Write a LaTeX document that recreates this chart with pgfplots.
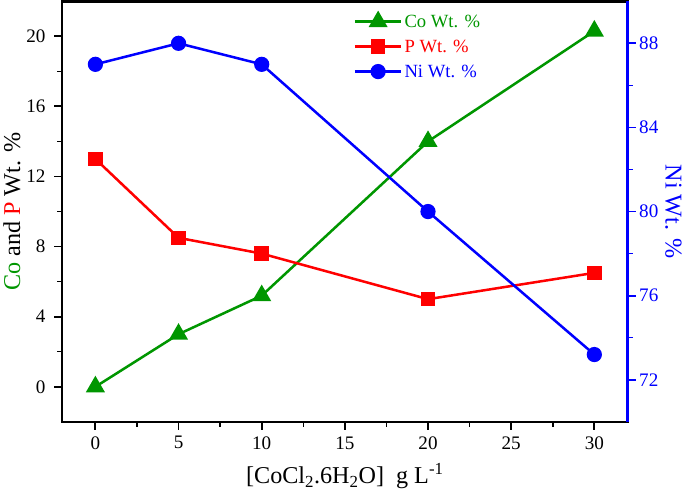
\documentclass[border=0pt]{standalone}
\usepackage{pgfplots}
\pgfplotsset{compat=1.18}
\usepackage{fontspec}
\setmainfont{Liberation Serif}
\definecolor{cogreen}{RGB}{0,150,0}
\definecolor{pred}{RGB}{255,0,0}
\definecolor{niblue}{RGB}{0,0,255}
\begin{document}
\begin{tikzpicture}
\pgfplotsset{
  common/.style={
    scale only axis, width=562pt, height=418pt,
    xmin=-2, xmax=32,
    tick align=outside,
    major tick length=8pt, minor tick length=5pt,
    /pgf/number format/assume math mode=true,
    tick label style={font=\fontsize{19}{21}\selectfont},
    label style={font=\fontsize{24}{26}\selectfont},
    every tick/.style={line width=1.8pt},
    every minor tick/.style={line width=1.5pt},
  }
}
\begin{axis}[common,
  ymin=-2, ymax=22,
  axis line style={line width=2.5pt},
  xtick={0,5,...,30}, minor xtick={2.5,7.5,...,27.5},
  ytick={0,4,...,20}, minor ytick={2,6,...,18},
  xtick pos=lower, ytick pos=left,
  y tick label style={xshift=-5pt},
  x tick label style={yshift=-3pt},
  xlabel={[CoCl\textsubscript{2}.6H\textsubscript{2}O]~~g L\textsuperscript{-1}},
  ylabel={\textcolor{cogreen}{Co} and \textcolor{pred}{P} Wt. \%},
  xlabel style={yshift=-7pt},
  ylabel style={yshift=-1pt},
  legend style={draw=none, fill=none, at={(0.51,0.978)}, anchor=north west,
    font=\fontsize{18.5}{20}\selectfont, row sep=7pt},
  legend cell align=left,
  legend image code/.code={\draw[mark repeat=2,mark phase=2] plot coordinates {(0pt,0pt) (23pt,0pt) (46pt,0pt)};},
]
\addplot[cogreen, line width=2.5pt, mark=triangle*, mark size=8.5pt, mark options={solid}]
  coordinates {(0,0) (5,3) (10,5.2) (20,14) (30,20.3)};
\addlegendentry{\textcolor{cogreen}{Co Wt. \%}}
\addplot[pred, line width=2.5pt, mark=square*, mark size=6pt]
  coordinates {(0,13) (5,8.5) (10,7.6) (20,5) (30,6.5)};
\addlegendentry{\textcolor{pred}{P Wt. \%}}
\addlegendimage{niblue, line width=2.5pt, mark=*, mark size=6.3pt}
\addlegendentry{\textcolor{niblue}{Ni Wt. \%}}
\end{axis}
\begin{axis}[common,
  ymin=70, ymax=90,
  axis x line=none,
  axis y line*=right,
  axis line style={line width=2.5pt, niblue, -},
  ytick={72,76,...,88}, minor ytick={74,78,...,86},
  ytick pos=right,
  y tick label style={niblue},
  every tick/.style={line width=1.8pt, niblue},
  every minor tick/.style={line width=1.5pt, niblue},
  ylabel={Ni Wt. \%},
  ylabel style={niblue, rotate=180, yshift=0pt},
]
\addplot[niblue, line width=2.5pt, mark=*, mark size=6.3pt]
  coordinates {(0,87) (5,88) (10,87) (20,80) (30,73.2)};
\end{axis}
\end{tikzpicture}
\end{document}
